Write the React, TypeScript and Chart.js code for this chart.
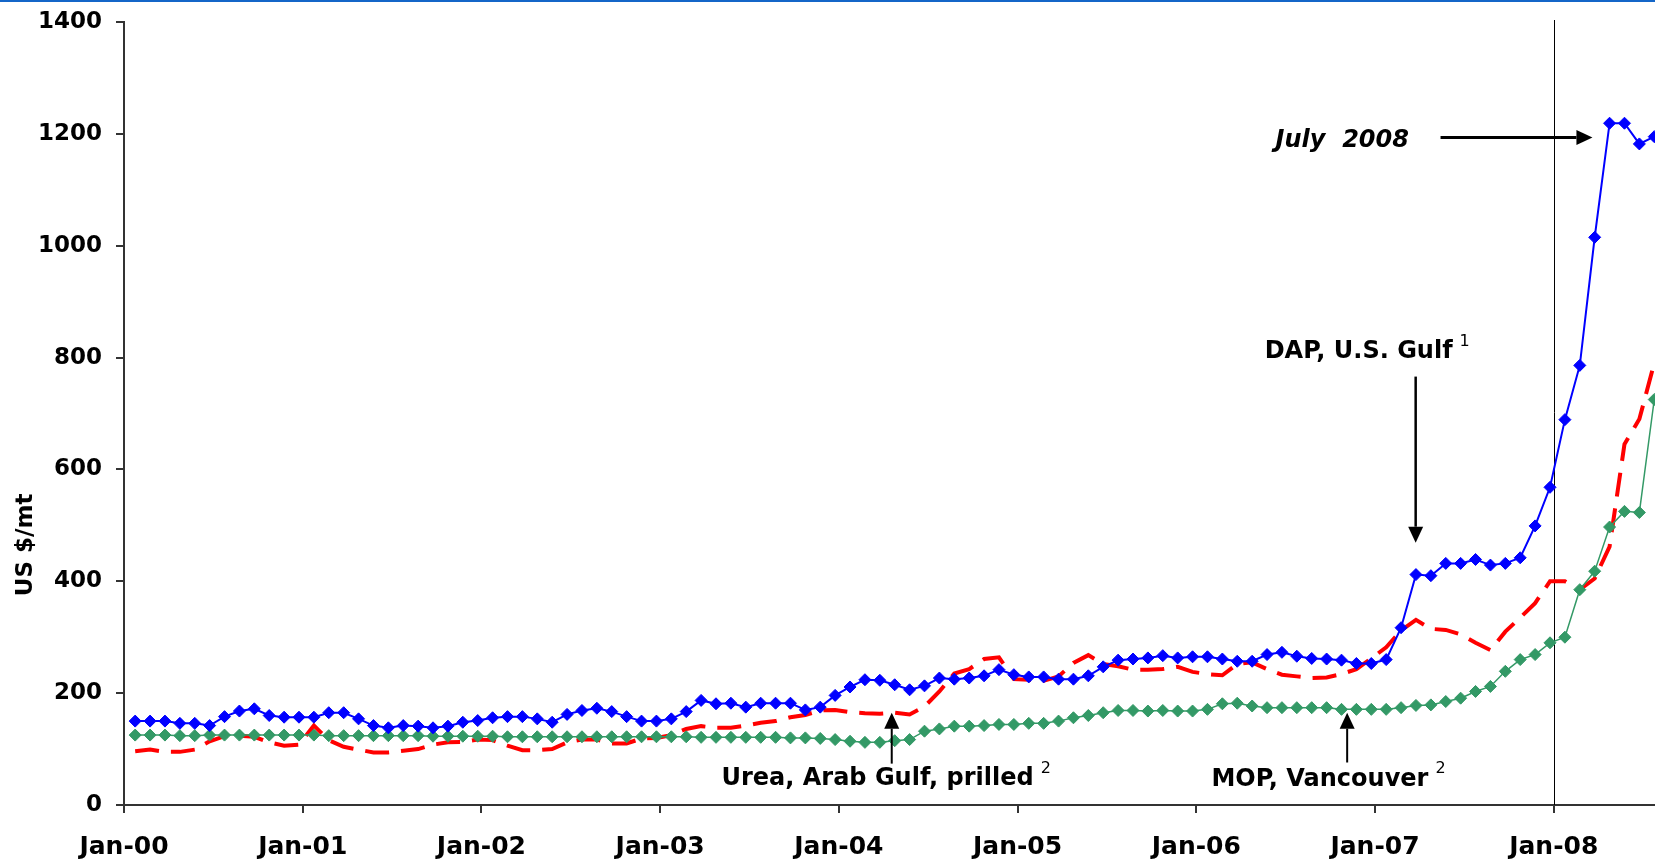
import React, { useEffect, useRef } from 'react';
import { Chart, registerables } from 'chart.js';

Chart.register(...registerables);

// ---- Data (monthly, Jan-2000 .. Jul-2008), US $/mt ----
const yearTickLabels = ['Jan-00', 'Jan-01', 'Jan-02', 'Jan-03', 'Jan-04', 'Jan-05', 'Jan-06', 'Jan-07', 'Jan-08'];
const yearTickMonths = [0, 12, 24, 36, 48, 60, 72, 84, 96];

const dapUSGulf = [
  150, 150, 150, 146, 146, 142, 158, 168, 172, 160, 157, 157,
  157, 165, 165, 154, 142, 138, 142, 141, 138, 141, 148, 151,
  156, 158, 158, 154, 148, 162, 169, 173, 167, 158, 150, 150,
  154, 167, 187, 181, 182, 175, 182, 182, 182, 170, 175, 196,
  211, 224, 223, 215, 206, 213, 227, 225, 227, 231, 242, 233,
  229, 229, 225, 225, 231, 247, 259, 261, 263, 267, 263, 265,
  265, 261, 257, 257, 269, 273, 266, 262, 261, 259, 253, 253,
  260, 317, 412, 410, 432, 432, 439, 429, 432, 442, 499, 568,
  689, 786, 1015, 1219, 1219, 1182, 1195,
];

const ureaArabGulf = [
  96, 99, 95, 95, 99, 114, 123, 124, 122, 112, 106, 108,
  142, 116, 104, 99, 94, 94, 97, 100, 108, 112, 113, 117,
  116, 106, 98, 98, 100, 112, 117, 117, 110, 110, 119, 120,
  125, 136, 141, 138, 138, 142, 147, 150, 157, 161, 169, 170,
  166, 164, 163, 165, 162, 176, 203, 235, 243, 261, 264, 225,
  224, 222, 230, 254, 268, 252, 248, 242, 242, 243, 247, 238,
  234, 232, 252, 255, 243, 233, 230, 227, 228, 234, 243, 262,
  282, 312, 331, 315, 313, 305, 290, 277, 310, 335, 361, 400,
  400, 385, 405, 462, 645, 690, 790,
];

const mopVancouver = [
  125, 125, 125, 124, 124, 125, 125, 125, 125, 125, 125, 125,
  125, 124, 124, 124, 124, 124, 124, 124, 123, 123, 123, 123,
  123, 122, 122, 122, 122, 122, 122, 122, 122, 122, 122, 122,
  122, 122, 121, 121, 121, 121, 121, 121, 120, 120, 119, 117,
  114, 112, 112, 115, 117, 132, 136, 141, 141, 142, 144, 144,
  146, 146, 150, 156, 160, 165, 169, 169, 168, 169, 168, 168,
  171, 181, 182, 177, 174, 174, 174, 174, 174, 171, 171, 171,
  171, 174, 178, 179, 185, 191, 203, 212, 239, 260, 269, 290,
  300, 385, 418, 497, 525, 523, 725,
];

// position of each monthly observation within its month (fraction of a month)
const obsWithinMonth = 0.75;
const markerMonth = 96; // Jan-08 reference line

// ---- Annotations (anchored in data units: month, US $/mt) ----
const noteTexts = ['July  2008', 'DAP, U.S. Gulf', 'Urea, Arab Gulf, prilled', 'MOP, Vancouver'];
const noteSups = ['', '1', '2', '2'];
const noteItalic = [true, false, false, false];
const noteMonth = [81.8, 82.9, 50.6, 80.3];
const noteValue = [1187, 810, 47, 46];

const arrowFromMonth = [88.4, 86.73, 51.55, 82.13];
const arrowFromValue = [1193.5, 766, 74, 76];
const arrowToMonth = [98.6, 86.73, 51.55, 82.13];
const arrowToValue = [1193.5, 469, 165, 165];
const arrowWidth = [3, 2.5, 2, 2];

const FONT = '"DejaVu Sans", Verdana, sans-serif';

function drawArrow(ctx: CanvasRenderingContext2D, x1: number, y1: number, x2: number, y2: number, lw: number) {
  const ang = Math.atan2(y2 - y1, x2 - x1);
  const headLen = 16;
  const headHalf = 7.5;
  const bx = x2 - Math.cos(ang) * headLen;
  const by = y2 - Math.sin(ang) * headLen;
  ctx.lineWidth = lw;
  ctx.beginPath();
  ctx.moveTo(x1, y1);
  ctx.lineTo(bx, by);
  ctx.stroke();
  ctx.beginPath();
  ctx.moveTo(x2, y2);
  ctx.lineTo(bx + Math.cos(ang + Math.PI / 2) * headHalf, by + Math.sin(ang + Math.PI / 2) * headHalf);
  ctx.lineTo(bx + Math.cos(ang - Math.PI / 2) * headHalf, by + Math.sin(ang - Math.PI / 2) * headHalf);
  ctx.closePath();
  ctx.fill();
}

const decorPlugin = {
  id: 'decor',
  beforeDraw(chart: any) {
    const { ctx, width, height } = chart;
    ctx.save();
    ctx.fillStyle = '#ffffff';
    ctx.fillRect(0, 0, width, height);
    ctx.fillStyle = '#1466c8';
    ctx.fillRect(0, 0, width, 2);
    ctx.restore();
  },
  beforeDatasetsDraw(chart: any) {
    const { ctx, chartArea } = chart;
    const x = chart.scales.x;
    const px = Math.round(x.getPixelForValue(markerMonth)) + 0.5;
    ctx.save();
    ctx.strokeStyle = '#000000';
    ctx.lineWidth = 1;
    ctx.beginPath();
    ctx.moveTo(px, chartArea.top - 2);
    ctx.lineTo(px, chartArea.bottom);
    ctx.stroke();
    ctx.restore();
  },
  afterDraw(chart: any) {
    const { ctx } = chart;
    const x = chart.scales.x;
    const y = chart.scales.y;
    ctx.save();
    // y-axis title
    ctx.fillStyle = '#000000';
    ctx.font = `bold 23px ${FONT}`;
    ctx.textAlign = 'center';
    ctx.textBaseline = 'middle';
    ctx.save();
    ctx.translate(26, y.getPixelForValue(465));
    ctx.rotate(-Math.PI / 2);
    ctx.fillText('US $/mt', 0, 0);
    ctx.restore();

    // annotation texts
    for (let i = 0; i < noteTexts.length; i++) {
      const cx = x.getPixelForValue(noteMonth[i]);
      const cy = y.getPixelForValue(noteValue[i]);
      ctx.font = `${noteItalic[i] ? 'italic ' : ''}bold 24px ${FONT}`;
      ctx.textAlign = 'center';
      ctx.textBaseline = 'middle';
      ctx.fillStyle = '#000000';
      ctx.fillText(noteTexts[i], cx, cy);
      if (noteSups[i]) {
        const w = ctx.measureText(noteTexts[i]).width;
        ctx.font = `16px ${FONT}`;
        ctx.textAlign = 'left';
        ctx.fillText(noteSups[i], cx + w / 2 + 7, cy - 10);
      }
    }

    // arrows
    ctx.strokeStyle = '#000000';
    ctx.fillStyle = '#000000';
    for (let i = 0; i < arrowFromMonth.length; i++) {
      drawArrow(
        ctx,
        x.getPixelForValue(arrowFromMonth[i]),
        y.getPixelForValue(arrowFromValue[i]),
        x.getPixelForValue(arrowToMonth[i]),
        y.getPixelForValue(arrowToValue[i]),
        arrowWidth[i]
      );
    }
    ctx.restore();
  },
};

export default function App() {
  const ref = useRef<HTMLCanvasElement>(null);

  useEffect(() => {
    const canvas = ref.current;
    if (!canvas) return;
    const toPoints = (arr: number[]) => arr.map((v, i) => ({ x: i + obsWithinMonth, y: v }));

    const axisFontX = { family: FONT, size: 25, weight: 'bold' as const };
    const axisFontY = { family: FONT, size: 23, weight: 'bold' as const };

    const chart = new Chart(canvas, {
      type: 'line',
      data: {
        datasets: [
          {
            label: 'DAP, U.S. Gulf',
            data: toPoints(dapUSGulf),
            borderColor: '#0000FF',
            backgroundColor: '#0000FF',
            pointBackgroundColor: '#0000FF',
            pointBorderColor: '#0000FF',
            borderWidth: 2,
            pointStyle: 'rectRot',
            pointRadius: 6,
            pointBorderWidth: 1,
            tension: 0,
            order: 0,
          },
          {
            label: 'MOP, Vancouver',
            data: toPoints(mopVancouver),
            borderColor: '#339966',
            backgroundColor: '#339966',
            pointBackgroundColor: '#339966',
            pointBorderColor: '#339966',
            borderWidth: 1.5,
            pointStyle: 'rectRot',
            pointRadius: 6,
            pointBorderWidth: 1,
            tension: 0,
            order: 1,
          },
          {
            label: 'Urea, Arab Gulf, prilled',
            data: toPoints(ureaArabGulf),
            borderColor: '#FF0000',
            backgroundColor: '#FF0000',
            borderWidth: 4,
            borderDash: [24, 12],
            pointRadius: 0,
            tension: 0,
            order: 2,
          },
        ],
      },
      options: {
        responsive: false,
        animation: false,
        events: [],
        layout: { autoPadding: false, padding: { top: 22, right: 0, bottom: 0, left: 0 } },
        plugins: {
          legend: { display: false },
          tooltip: { enabled: false },
          title: { display: false },
        },
        scales: {
          x: {
            type: 'linear',
            min: 0,
            max: 102.8,
            afterBuildTicks: (s: any) => {
              s.ticks = yearTickMonths.map((v) => ({ value: v }));
            },
            afterFit: (s: any) => {
              s.height = 54;
              s.paddingLeft = 0;
              s.paddingRight = 0;
            },
            ticks: {
              autoSkip: false,
              maxRotation: 0,
              padding: 19,
              color: '#000000',
              font: axisFontX,
              callback: (v: any) => {
                const idx = yearTickMonths.indexOf(Number(v));
                return idx >= 0 ? yearTickLabels[idx] : '';
              },
            },
            grid: { drawOnChartArea: false, drawTicks: true, tickLength: 8, color: '#333333', lineWidth: 2 },
            border: { display: true, color: '#333333', width: 2 },
          },
          y: {
            min: 0,
            max: 1400,
            afterFit: (s: any) => {
              s.width = 124;
              s.paddingTop = 0;
              s.paddingBottom = 0;
            },
            ticks: {
              stepSize: 200,
              padding: 14,
              color: '#000000',
              font: axisFontY,
              callback: (v: any) => String(v),
            },
            grid: { drawOnChartArea: false, drawTicks: true, tickLength: 8, color: '#333333', lineWidth: 2 },
            border: { display: true, color: '#333333', width: 2 },
          },
        },
      },
      plugins: [decorPlugin],
    });
    return () => chart.destroy();
  }, []);

  return (
    <div style={{ position: 'fixed', left: 0, top: 0, width: 1655, height: 859, background: '#ffffff', overflow: 'hidden' }}>
      <canvas ref={ref} width={1655} height={859} style={{ display: 'block', width: 1655, height: 859 }} />
    </div>
  );
}
